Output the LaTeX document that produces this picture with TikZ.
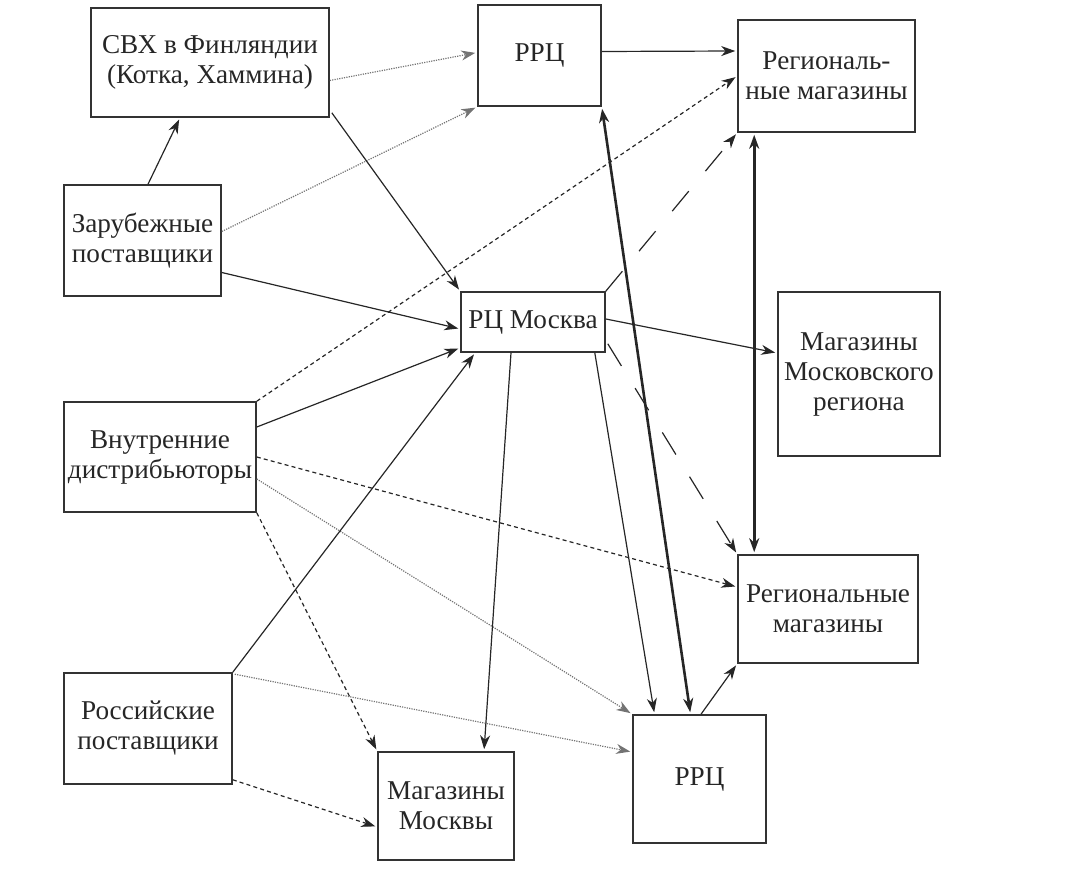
\documentclass[tikz,border=0pt]{standalone}
\usepackage{fontspec}
\setmainfont{Liberation Serif}
\usetikzlibrary{positioning,calc,arrows.meta}

\begin{document}
\begin{tikzpicture}[x=0.5pt,y=-0.5pt,
    box/.style={draw=black!80, line width=0.8pt, align=center, inner sep=0pt,
        text=black!85, font=\fontsize{13.6}{15}\selectfont},
    flow/.style={draw=black!85, line width=0.6pt, -{Stealth[length=7pt,width=5pt,inset=2.2pt]}, shorten >=1pt},
    dotflow/.style={flow, draw=black!55, dash pattern=on 0.6pt off 0.6pt},
    dashflow/.style={flow, dash pattern=on 2pt off 1.6pt},
    longflow/.style={flow, dash pattern=on 13pt off 13pt},
    boldflow/.style={flow, line width=1.3pt, {Stealth[length=7pt,width=5pt,inset=2.2pt]}-{Stealth[length=7pt,width=5pt,inset=2.2pt]}, shorten <=1pt}]
    % Frame
    \useasboundingbox (0,0) rectangle (1074,876);

    % Boxes
    \node[box, minimum width=119pt, minimum height=54.5pt] (svh) at (210,62.5) {СВХ в Финляндии\\(Котка, Хаммина)};
    \node[box, minimum width=61.5pt, minimum height=50.5pt] (rrcA) at (539.5,55.5) {РРЦ};
    \node[box, minimum width=88.5pt, minimum height=56pt] (regA) at (826.5,76) {Региональ-\\ные магазины};
    \node[box, minimum width=78.5pt, minimum height=55.5pt] (zar) at (142.5,240.5) {Зарубежные\\поставщики};
    \node[box, minimum width=72pt, minimum height=30pt] (rcm) at (533,322) {РЦ Москва};
    \node[box, minimum width=81pt, minimum height=82pt] (mmr) at (859,374) {Магазины\\Московского\\региона};
    \node[box, minimum width=96pt, minimum height=55pt] (vnu) at (160,457) {Внутренние\\дистрибьюторы};
    \node[box, minimum width=90pt, minimum height=54pt] (regB) at (828,609) {Региональные\\магазины};
    \node[box, minimum width=84pt, minimum height=55.5pt] (ros) at (148,728.5) {Российские\\поставщики};
    \node[box, minimum width=68pt, minimum height=54pt] (msk) at (446,806) {Магазины\\Москвы};
    \node[box, minimum width=66.5pt, minimum height=64pt] (rrcB) at (699.5,779) {РРЦ};

    % Foreign suppliers
    \draw[flow] ($(zar.north)+(5.5,0)$) -- ($(svh.south)+(-30,0)$);
    \draw[dotflow] ($(zar.east)+(0,-9)$) -- (rrcA.south west);
    \draw[flow] ($(zar.east)+(0,32)$) -- ($(rcm.west)+(0,7)$);

    % Finland warehouses
    \draw[dotflow] ($(svh.east)+(0,18)$) -- ($(rrcA.west)+(0,-3)$);
    \draw[flow] ($(svh.south east)+(2,-5)$) -- (rcm.north west);

    % Domestic distributors
    \draw[dashflow] (vnu.north east) -- (regA.west);
    \draw[flow] ($(vnu.east)+(0,-30)$) -- ($(rcm.south west)+(0,-5)$);
    \draw[dashflow] (vnu.east) -- ($(regB.west)+(0,-22)$);
    \draw[dotflow] ($(vnu.east)+(0,22)$) -- (rrcB.north west);
    \draw[dashflow] (vnu.south east) -- (msk.north west);

    % Russian suppliers
    \draw[flow] (ros.north east) -- ($(rcm.south west)+(15,0)$);
    \draw[dotflow] ($(ros.north east)+(2,2)$) -- ($(rrcB.west)+(0,-27)$);
    \draw[dashflow] ($(ros.south east)+(0,-5)$) -- ($(msk.west)+(0,21)$);

    % Moscow DC
    \draw[flow] ($(rcm.east)+(0,-3)$) -- ($(mmr.west)+(0,-21)$);
    \draw[flow] ($(rcm.south)+(-22,0)$) -- ($(msk.north)+(38,0)$);
    \draw[flow] ($(rcm.south east)+(-11,0)$) -- ($(rrcB.north)+(-45,0)$);
    \draw[longflow] (rcm.north east) -- (regA.south west);
    \draw[longflow] ($(rcm.south east)+(2,-9)$) -- (regB.north west);

    % Regional DCs
    \draw[flow] ($(rrcA.east)+(0,-4)$) -- ($(regA.west)+(0,-25)$);
    \draw[boldflow] (rrcA.south east) -- ($(rrcB.north)+(-9,0)$);
    \draw[boldflow] ($(regA.south west)+(17,0)$) -- ($(regB.north west)+(17,0)$);
    \draw[flow] ($(rrcB.north)+(1.5,0)$) -- (regB.south west);
\end{tikzpicture}
\end{document}
